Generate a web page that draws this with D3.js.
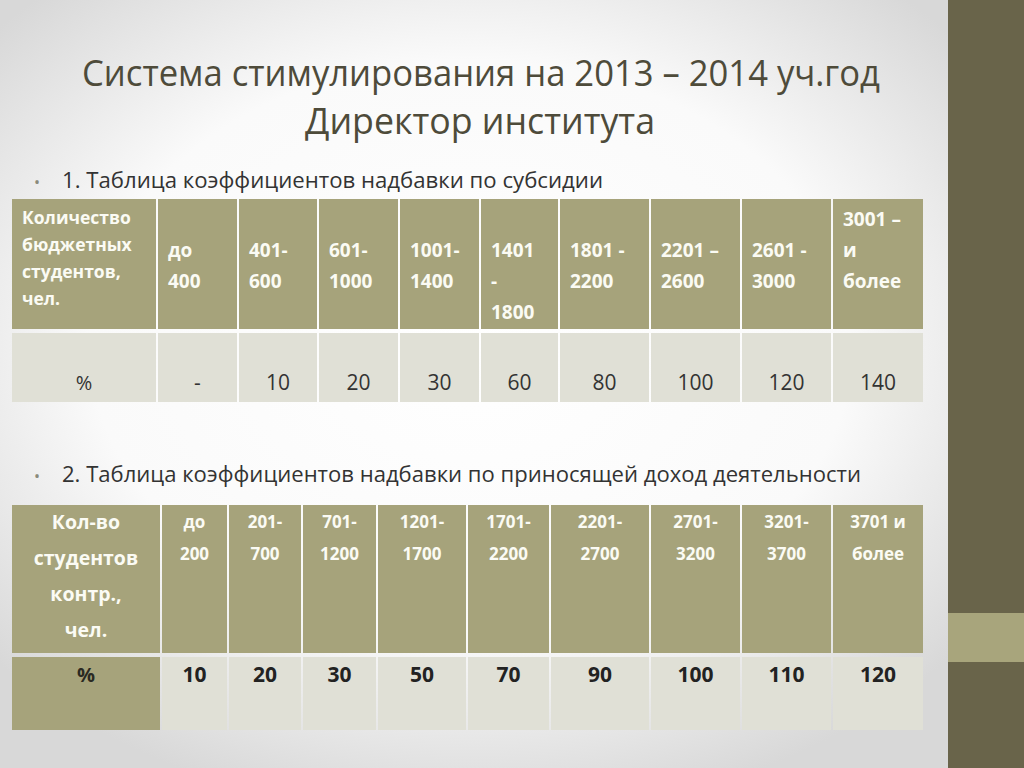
<!DOCTYPE html>
<html>
<head>
<meta charset="utf-8">
<script src="https://cdn.jsdelivr.net/npm/d3@7"></script>
<style>
  body { margin: 0; background: #fff; }
  svg { display: block; }
</style>
</head>
<body>
<svg width="1024" height="768"></svg>
<script>
// table 1: subsidy
const rowHead1 = ["Количество", "бюджетных", "студентов,", "чел."];
const cats1 = ["до 400", "401-600", "601-1000", "1001-1400", "1401-1800",
               "1801-2200", "2201-2600", "2601-3000", "3001 – и более"];
// wrapped header lines, leading "" keeps the empty first line of the cell
const catLines1 = [["", "до", "400"], ["", "401-", "600"], ["", "601-", "1000"],
                   ["", "1001-", "1400"], ["", "1401", "-", "1800"], ["", "1801 -", "2200"],
                   ["", "2201 –", "2600"], ["", "2601 -", "3000"], ["3001 –", "и", "более"]];
const pct1 = [null, 10, 20, 30, 60, 80, 100, 120, 140];

// table 2: income-generating activity
const rowHead2 = ["Кол-во", "студентов", "контр.,", "чел."];
const cats2 = ["до 200", "201-700", "701-1200", "1201-1700", "1701-2200",
               "2201-2700", "2701-3200", "3201-3700", "3701 и более"];
const catLines2 = [["до", "200"], ["201-", "700"], ["701-", "1200"], ["1201-", "1700"],
                   ["1701-", "2200"], ["2201-", "2700"], ["2701-", "3200"],
                   ["3201-", "3700"], ["3701 и", "более"]];
const pct2 = [10, 20, 30, 50, 70, 90, 100, 110, 120];

const svg = d3.select('svg');
const W = 1024, H = 768;

const olive = '#a6a37b', light = '#e0e0d6', dark = '#69644a';

// background
const defs = svg.append('defs');
const rg = defs.append('radialGradient').attr('id', 'bg')
  .attr('cx', '0.46').attr('cy', '0.45').attr('r', '0.62');
rg.append('stop').attr('offset', '0').attr('stop-color', '#ffffff');
rg.append('stop').attr('offset', '0.6').attr('stop-color', '#fafafa');
rg.append('stop').attr('offset', '1').attr('stop-color', '#d8d8d8');
svg.append('rect').attr('width', W).attr('height', H).attr('fill', 'url(#bg)');

// right panel
svg.append('rect').attr('x', 948).attr('y', 0).attr('width', 76).attr('height', H).attr('fill', dark);
svg.append('rect').attr('x', 948).attr('y', 613).attr('width', 76).attr('height', 49).attr('fill', '#a8a57c');

// title
const titleFont = "'Liberation Sans Narrow', 'Open Sans', sans-serif";
svg.append('text').attr('x', 82).attr('y', 86)
  .attr('textLength', 798).attr('lengthAdjust', 'spacingAndGlyphs')
  .style('font-family', titleFont).style('font-size', '37px').style('fill', '#4e4b3a')
  .text('Система стимулирования на 2013 – 2014  уч.год');
svg.append('text').attr('x', 305).attr('y', 134)
  .attr('textLength', 350).attr('lengthAdjust', 'spacingAndGlyphs')
  .style('font-family', titleFont).style('font-size', '37px').style('fill', '#4e4b3a')
  .text('Директор института');

// bullets
const bullets = [
  {y: 188, w: 541, t: '1. Таблица коэффициентов надбавки по субсидии'},
  {y: 482, w: 799, t: '2. Таблица коэффициентов надбавки по приносящей доход деятельности'}
];
bullets.forEach(b => {
  svg.append('text').attr('x', 34).attr('y', b.y)
    .style('font-family', 'Open Sans').style('font-size', '16px').style('fill', '#8a8a7a').text('•');
  svg.append('text').attr('x', 62).attr('y', b.y)
    .attr('textLength', b.w).attr('lengthAdjust', 'spacingAndGlyphs')
    .style('font-family', titleFont).style('font-size', '21px').style('fill', '#333')
    .text(b.t);
});

const cellFont = "'Open Sans', sans-serif";

// ---------- table 1 ----------
const edges1 = [12, 158, 239, 319, 400, 481, 560, 651, 742, 833, 925];
const keys1 = ['head'].concat(cats1);
const x1 = d3.scaleOrdinal().domain(keys1).range(edges1.slice(0, -1));
const w1 = d3.scaleOrdinal().domain(keys1).range(d3.pairs(edges1).map(p => p[1] - p[0] - 2));
const y1Head = [199, 329], y1Pct = [333, 402];

const t1 = svg.append('g');
t1.selectAll('rect.h').data(keys1).join('rect').attr('class', 'h')
  .attr('x', d => x1(d)).attr('y', y1Head[0]).attr('width', d => w1(d))
  .attr('height', y1Head[1] - y1Head[0]).attr('fill', olive);
t1.selectAll('rect.p').data(keys1).join('rect').attr('class', 'p')
  .attr('x', d => x1(d)).attr('y', y1Pct[0]).attr('width', d => w1(d))
  .attr('height', y1Pct[1] - y1Pct[0]).attr('fill', light);

// row header text
t1.append('text')
  .style('font-family', cellFont).style('font-size', '17.5px').style('font-weight', 'bold').style('fill', '#fbfbf4')
  .selectAll('tspan').data(rowHead1).join('tspan')
  .attr('x', x1('head') + 10).attr('y', (d, i) => 224 + i * 27).text(d => d);

t1.selectAll('text.cat').data(cats1).join('text').attr('class', 'cat')
  .style('font-family', cellFont).style('font-size', '19px').style('font-weight', 'bold').style('fill', '#fbfbf4')
  .each(function(d, i) {
    d3.select(this).selectAll('tspan').data(catLines1[i]).join('tspan')
      .attr('x', x1(d) + 10).attr('y', (s, j) => 226 + j * 31).text(s => s);
  });

t1.append('text').attr('x', x1('head') + w1('head') / 2).attr('y', 390)
  .attr('text-anchor', 'middle')
  .style('font-family', cellFont).style('font-size', '20px').style('fill', '#333').text('%');
t1.selectAll('text.val').data(cats1).join('text').attr('class', 'val')
  .attr('x', d => x1(d) + w1(d) / 2).attr('y', 390).attr('text-anchor', 'middle')
  .style('font-family', cellFont).style('font-size', '21px').style('fill', '#333')
  .text((d, i) => pct1[i] == null ? '-' : pct1[i]);

// ---------- table 2 ----------
const edges2 = [12, 162, 229, 303, 378, 468, 551, 651, 742, 833, 925];
const keys2 = ['head'].concat(cats2);
const x2 = d3.scaleOrdinal().domain(keys2).range(edges2.slice(0, -1));
const w2 = d3.scaleOrdinal().domain(keys2).range(d3.pairs(edges2).map(p => p[1] - p[0] - 2));
const y2Head = [505, 653], y2Pct = [657, 730];

const t2 = svg.append('g');
t2.selectAll('rect.h').data(keys2).join('rect').attr('class', 'h')
  .attr('x', d => x2(d)).attr('y', y2Head[0]).attr('width', d => w2(d))
  .attr('height', y2Head[1] - y2Head[0]).attr('fill', olive);
t2.selectAll('rect.p').data(keys2).join('rect').attr('class', 'p')
  .attr('x', d => x2(d)).attr('y', y2Pct[0]).attr('width', d => w2(d))
  .attr('height', y2Pct[1] - y2Pct[0]).attr('fill', d => d === 'head' ? olive : light);

t2.append('text')
  .style('font-family', cellFont).style('font-size', '19.5px').style('font-weight', 'bold').style('fill', '#fbfbf4')
  .attr('text-anchor', 'middle')
  .selectAll('tspan').data(rowHead2).join('tspan')
  .attr('x', x2('head') + w2('head') / 2).attr('y', (d, i) => 529 + i * 36).text(d => d);

t2.selectAll('text.cat').data(cats2).join('text').attr('class', 'cat')
  .attr('text-anchor', 'middle')
  .style('font-family', cellFont).style('font-size', '17px').style('font-weight', 'bold').style('fill', '#fbfbf4')
  .each(function(d, i) {
    d3.select(this).selectAll('tspan').data(catLines2[i]).join('tspan')
      .attr('x', x2(d) + w2(d) / 2).attr('y', (s, j) => 528 + j * 32).text(s => s);
  });

t2.append('text').attr('x', x2('head') + w2('head') / 2).attr('y', 682)
  .attr('text-anchor', 'middle')
  .style('font-family', cellFont).style('font-size', '20px').style('font-weight', 'bold').style('fill', '#2a2a22').text('%');
t2.selectAll('text.val').data(cats2).join('text').attr('class', 'val')
  .attr('x', d => x2(d) + w2(d) / 2).attr('y', 682).attr('text-anchor', 'middle')
  .style('font-family', cellFont).style('font-size', '21px').style('font-weight', 'bold').style('fill', '#222')
  .text((d, i) => pct2[i]);
</script>
</body>
</html>
